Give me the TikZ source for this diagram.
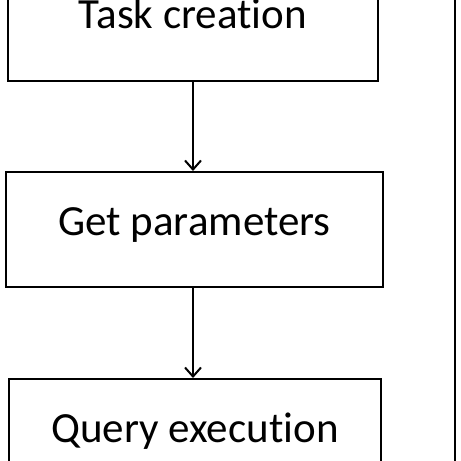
\documentclass[tikz,border=0pt]{standalone}
\usepackage{fontspec}
\setmainfont[Ligatures=CommonOff]{Carlito}
\usetikzlibrary{arrows.meta}
\tikzset{
  stepbox/.style={draw, line width=2pt, minimum height=115pt, inner sep=0pt,
    text height=30pt, text depth=19pt, font=\fontsize{43}{43}\selectfont},
  flow/.style={line width=2pt, -{Straight Barb[length=9pt,width=16pt,line width=2pt]}}
}
\begin{document}
\begin{tikzpicture}[x=1pt,y=1pt]
    	\useasboundingbox (0,0) rectangle (461,-461);
    	%blocks
    	\node[stepbox, minimum width=370pt] (task) at (193,-23) {Task creation};
    	\node[stepbox, minimum width=377pt] (param) at (194.5,-229.5) {Get parameters};
    	\node[stepbox, minimum width=372pt] (query) at (195,-436.5) {Query execution};
    	%arrows between blocks
    	\draw[flow] (task.south) -- (task.south |- param.north);
    	\draw[flow] (param.south -| task.south) -- (task.south |- query.north);
    	%line on the right
    	\coordinate (top) at (455,5);
    	\coordinate (bottom) at (455,-466);
    	\draw[line width=2pt] (top) -- (bottom);
\end{tikzpicture}
\end{document}
